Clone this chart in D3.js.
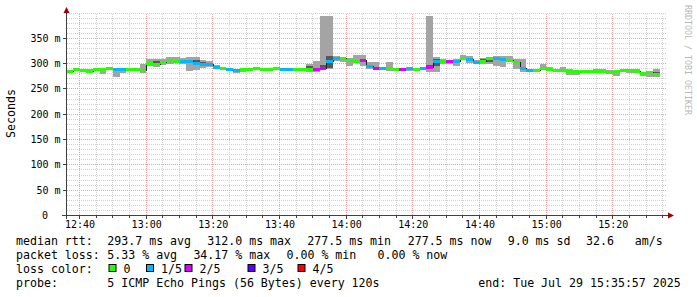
<!DOCTYPE html>
<html><head><meta charset="utf-8">
<script src="https://cdn.jsdelivr.net/npm/d3@7"></script>
<style>
html,body{margin:0;padding:0;background:#fff;}
svg{display:block;}
text{font-family:"DejaVu Sans Mono",monospace;}
</style>
</head><body>
<svg id="c" width="697" height="297"></svg>
<script>
// ---- data (one value per 120 s step, starting 12:36:00) ----
const median = [285,289,288,285,289,290,292,289,289,290, 289,288,301,299,303,307,306,306,306,301,
                300,299,294,291,289,288,289,290,291,289, 289,291,290,290,290,290,290,290,291,305,
                311,311,307,305,308,296,291,291,291,289, 289,291,289,291,294,306,306,306,305,311,
                309,303,306,311,311,309,308,303,291,287, 288,291,289,288,288,286,285,285,286,286,
                285,284,285,287,287,285,282,283,279];
const lossCount = [0,0,0,0,0,0,0,1,1,0, 0,0,0,0,0,0,0,1,1,1,
                   1,1,1,0,1,1,0,0,0,0, 0,0,1,1,0,0,0,2,2,1,
                   1,0,0,0,2,1,2,1,0,0, 2,1,0,1,2,1,0,2,1,0,
                   1,1,0,0,1,1,0,0,1,1, 0,0,0,0,0,0,0,0,0,0,
                   0,0,0,0,0,0,0,0,0];
const pingMin = [284,288,283,282,287,280,290,273,281,289, 286,281,295,293,298,299,302,300,286,287,
                 292,293,292,290,288,281,284,289,290,288, 288,290,289,289,287,286,283,283,288,290,
                 305,303,295,301,296,290,290,290,285,285, 288,285,288,290,284,284,299,299,295,308,
                 301,301,299,299,296,294,303,290,284,283, 287,290,288,287,287,277,277,284,285,284,
                 284,280,275,286,282,284,276,273,274];
const ping2 = [284,288,286,283,288,287,291,286,287,289, 288,286,299,296,301,305,305,304,303,298,
               298,297,293,290,288,287,287,289,290,288, 288,290,289,289,289,289,288,288,290,292,
               308,307,304,304,304,293,290,290,288,287, 288,289,288,290,292,296,302,302,302,309,
               305,302,303,304,307,306,306,300,289,286, 287,290,288,287,287,285,284,284,285,285,
               284,283,282,286,286,284,281,281,279];
const ping4 = [286,289,289,287,290,291,293,290,290,291, 290,290,303,305,305,309,307,308,308,308,
               303,302,296,292,290,289,290,291,292,290, 290,292,291,291,291,291,296,292,297,316,
               313,312,309,307,309,297,292,292,292,290, 290,292,290,292,297,309,307,307,306,312,
               311,305,310,312,312,311,309,305,292,288, 289,292,290,289,289,287,287,286,287,288,
               286,286,286,288,288,286,283,284,283];
const pingMax = [287,290,290,290,292,292,294,291,291,292, 291,299,310,309,309,313,313,312,313,313,
                 308,306,298,293,291,290,291,292,293,291, 291,293,292,292,292,292,300,305,395,395,
                 315,314,312,317,318,304,304,293,303,291, 291,293,291,293,395,313,310,308,310,317,
                 316,308,312,313,315,315,316,309,309,288, 290,300,294,290,293,290,288,287,288,289,
                 289,287,287,289,289,289,284,285,290];
const yTickValues = [0,50,100,150,200,250,300,350];
const yTickLabels = ["0","50 m","100 m","150 m","200 m","250 m","300 m","350 m"];
const xTickLabels = ["12:40","13:00","13:20","13:40","14:00","14:20","14:40","15:00","15:20"];
const lossLabels = ["0","1/5","2/5","3/5","4/5"];
const lossColors = ["#26ff00","#00b8ff","#dd00ff","#5e00ff","#ff0000"];

// ---- layout ----
const svg = d3.select("#c");
const X0 = 66, X1 = 666, Y0 = 215.5, YTOP = 13;
const tStart = new Date(2025,6,29,12,35,57), tEnd = new Date(2025,6,29,15,35,57);
const x = d3.scaleTime().domain([tStart,tEnd]).range([X0,X1]);
const y = d3.scaleLinear().domain([0,400]).range([Y0,YTOP]);
const binStart = k => new Date(2025,6,29,12,36,0).getTime() + k*120000;
const px = v => Math.floor(v)+0.5;

// grid
const g = svg.append("g").attr("shape-rendering","crispEdges");
const minorY = d3.range(10,401,10).filter(v=>v%50!==0 || v===400);
const majorY = d3.range(50,351,50);
const minorX = d3.timeMinute.every(5).range(tStart,tEnd).filter(d=>d.getMinutes()%20!==0);
const majorX = d3.timeMinute.every(20).range(tStart,tEnd);
g.selectAll(".gy").data(minorY).join("line")
  .attr("x1",X0+1).attr("x2",X1).attr("y1",d=>px(y(d))).attr("y2",d=>px(y(d)))
  .attr("stroke","#d0d0d0").attr("stroke-dasharray","1,1");
g.selectAll(".gx").data(minorX).join("line")
  .attr("x1",d=>px(x(d))).attr("x2",d=>px(x(d))).attr("y1",215).attr("y2",YTOP)
  .attr("stroke","#d0d0d0").attr("stroke-dasharray","1,1");
g.selectAll(".my").data(majorY).join("line")
  .attr("x1",X0+1).attr("x2",X1).attr("y1",d=>px(y(d))).attr("y2",d=>px(y(d)))
  .attr("stroke","#eea0a0").attr("stroke-dasharray","1,1");
g.selectAll(".mx").data(majorX).join("line")
  .attr("x1",d=>px(x(d))).attr("x2",d=>px(x(d))).attr("y1",215).attr("y2",YTOP)
  .attr("stroke","#eea0a0").attr("stroke-dasharray","1,1");

// data
const bins = median.map((m,k)=>({k,m,loss:lossCount[k],lo:pingMin[k],p2:ping2[k],p4:ping4[k],hi:pingMax[k],
  xs:Math.round(x(new Date(binStart(k)))), xe:Math.round(x(new Date(binStart(k)+120000)))}));
const ry = v => Math.round(y(v));
const dg = svg.append("g").attr("shape-rendering","crispEdges");
dg.selectAll(".s1").data(bins).join("rect")
  .attr("x",d=>d.xs).attr("width",d=>d.xe-d.xs)
  .attr("y",d=>ry(d.hi)).attr("height",d=>Math.max(1,ry(d.lo)-ry(d.hi)))
  .attr("fill","#a4a4a4");
dg.selectAll(".s2").data(bins).join("rect")
  .attr("x",d=>d.xs).attr("width",d=>d.xe-d.xs)
  .attr("y",d=>ry(d.p4)).attr("height",d=>Math.max(0,ry(d.p2)-ry(d.p4)))
  .attr("fill","#585858");
const pts = bins.map(d=>[d.xs+0.5,ry(d.m)+0.5]);
pts.push([bins[bins.length-1].xe-0.5, ry(bins[bins.length-1].m)+0.5]);
dg.append("path").attr("d",d3.line().curve(d3.curveStepAfter)(pts))
  .attr("fill","none").attr("stroke","#202020").attr("stroke-width",1);
dg.selectAll(".md").data(bins).join("rect")
  .attr("x",d=>d.xs).attr("width",d=>d.xe-d.xs)
  .attr("y",d=>ry(d.m)-1).attr("height",3)
  .attr("fill",d=>lossColors[d.loss]);

// axes
const ax = svg.append("g").attr("shape-rendering","crispEdges");
ax.append("line").attr("x1",62).attr("x2",669).attr("y1",215.5).attr("y2",215.5).attr("stroke","#404040");
ax.append("line").attr("x1",66.5).attr("x2",66.5).attr("y1",219).attr("y2",10).attr("stroke","#404040");
ax.append("path").attr("d","M63.5,13L69.5,13L66.5,7Z").attr("fill","#a00000").attr("shape-rendering","auto");
ax.append("path").attr("d","M668,212.5L668,218.5L674,215.5Z").attr("fill","#a00000").attr("shape-rendering","auto");
ax.selectAll(".yt").data(majorY).join("line")
  .attr("x1",63).attr("x2",66).attr("y1",d=>px(y(d))).attr("y2",d=>px(y(d))).attr("stroke","#404040");
ax.selectAll(".xt").data(majorX).join("line")
  .attr("x1",d=>px(x(d))).attr("x2",d=>px(x(d))).attr("y1",215).attr("y2",218.5).attr("stroke","#404040");
ax.selectAll(".xtm").data(minorX).join("line")
  .attr("x1",d=>px(x(d))).attr("x2",d=>px(x(d))).attr("y1",215).attr("y2",217.5).attr("stroke","#404040");

// y labels
ax.selectAll(".yl").data(yTickValues).join("text")
  .attr("x",(d,i)=> i===0 ? 48 : 60.5).attr("y",d=>y(d)+3.5)
  .attr("text-anchor","end").attr("font-size","10px").attr("fill","#000")
  .text((d,i)=>yTickLabels[i]);
// x labels
ax.selectAll(".xl").data(majorX).join("text")
  .attr("x",d=>x(d)+0.5).attr("y",227.5).attr("text-anchor","middle")
  .attr("font-size","10px").attr("fill","#000")
  .text((d,i)=>xTickLabels[i]);

svg.append("text").attr("transform","translate(15,113.5) rotate(-90)")
  .attr("text-anchor","middle").attr("font-size","11.6px").attr("fill","#000").text("Seconds");
svg.append("text").attr("transform","translate(685,5) rotate(90)")
  .attr("text-anchor","start").attr("font-size","8.3px").attr("fill","#b8b8b8").text("RRDTOOL / TOBI OETIKER");

// legend
const lg = svg.append("g").attr("font-size","11.6px").attr("fill","#000");
const items = [
  [16,244.5,"median rtt:"],[107.3,244.5,"293.7 ms avg"],[207.3,244.5,"312.0 ms max"],[307.3,244.5,"277.5 ms min"],
  [407.7,244.5,"277.5 ms now"],[507.7,244.5,"9.0 ms sd"],[586,244.5,"32.6   am/s"],
  [16,258.5,"packet loss:"],[107.3,258.5,"5.33 % avg"],[193.4,258.5,"34.17 % max"],[286.5,258.5,"0.00 % min"],[377.5,258.5,"0.00 % now"],
  [16,272.5,"loss color:"],
  [16,286.5,"probe:"],[107.3,286.5,"5 ICMP Echo Pings (56 Bytes) every 120s"],[478.3,286.5,"end: Tue Jul 29 15:35:57 2025"]
];
lg.selectAll("text").data(items).join("text").attr("x",d=>d[0]).attr("y",d=>d[1]).style("white-space","pre").text(d=>d[2]);
const boxX = [108.5,146,184.5,247.5,297.5];
lossLabels.forEach((l,i)=>{
  lg.append("rect").attr("x",boxX[i]+0.5).attr("y",264.5).attr("width",7).attr("height",7)
    .attr("fill",lossColors[i]).attr("stroke","#000").attr("stroke-width",1);
  lg.append("text").attr("x",boxX[i]+15).attr("y",272.5).text(l);
});
</script>
</body></html>
